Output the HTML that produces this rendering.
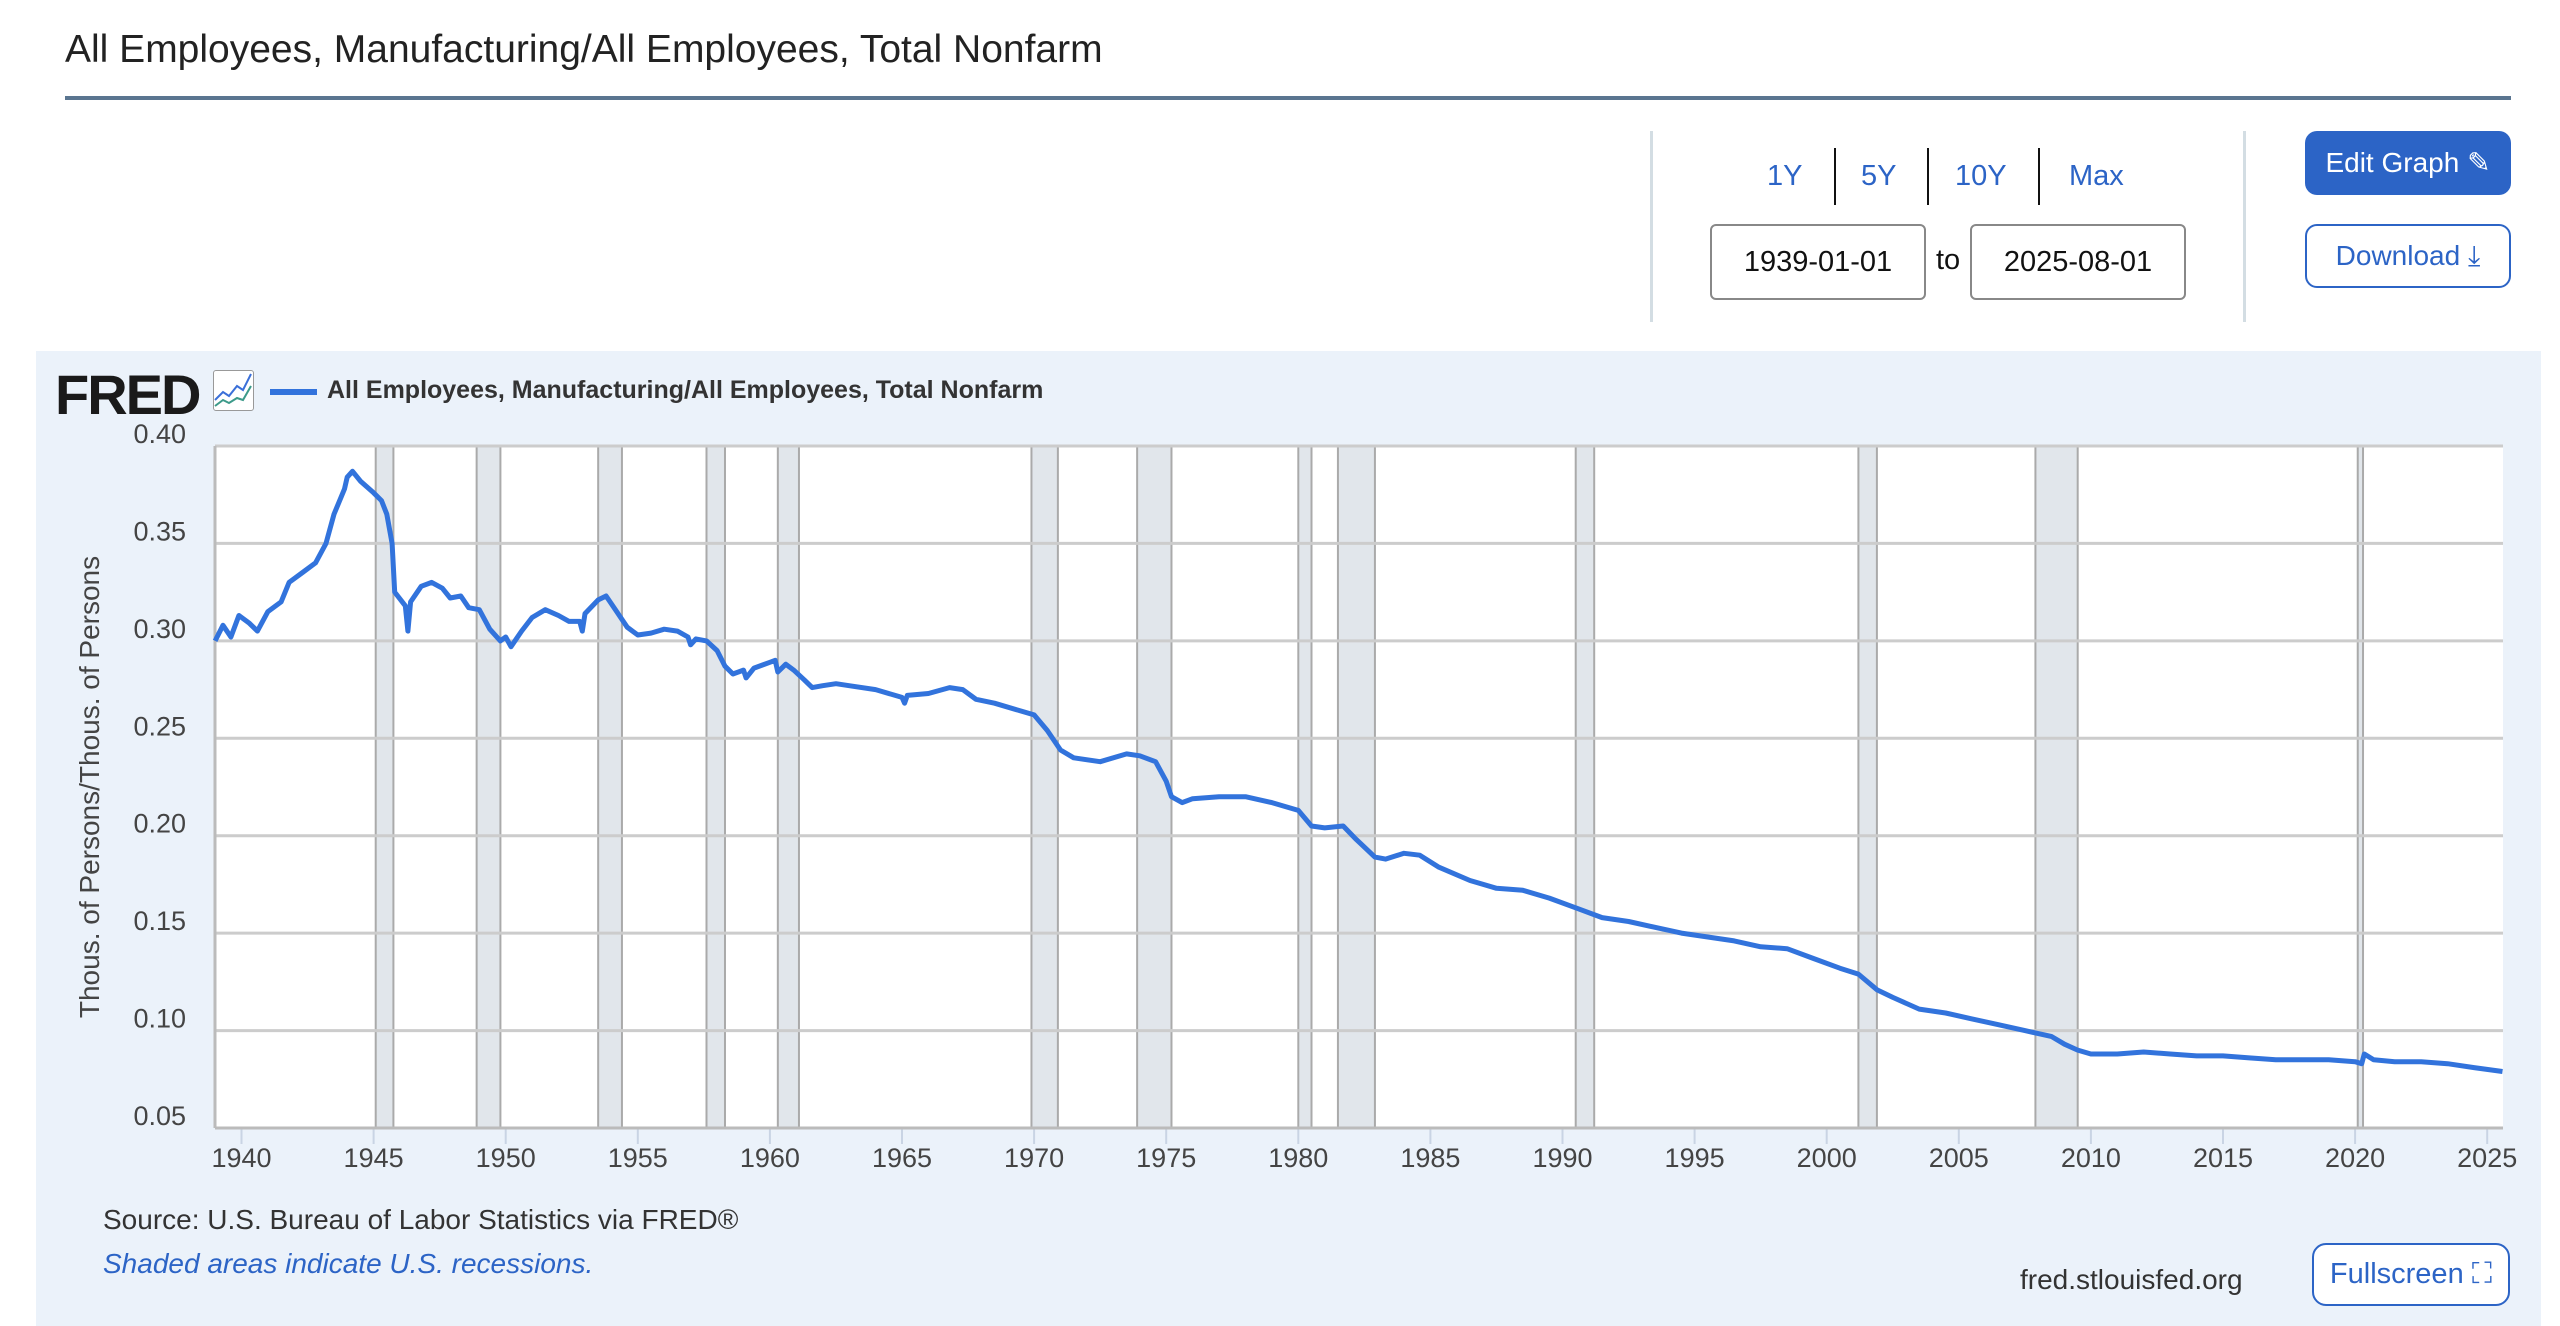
<!DOCTYPE html>
<html><head><meta charset="utf-8"><style>
body{margin:0;width:2560px;height:1326px;background:#fff;position:relative;overflow:hidden;font-family:"Liberation Sans",sans-serif}
.a{position:absolute}
</style></head><body>
<div class="a" style="left:65px;top:28px;font-size:39px;color:#222">All Employees, Manufacturing/All Employees, Total Nonfarm</div>
<div class="a" style="left:65px;top:96px;width:2446px;height:4px;background:#5a7590"></div>
<div class="a" style="left:1650px;top:131px;width:3px;height:191px;background:#d3dde3"></div>
<div class="a" style="left:2243px;top:131px;width:3px;height:191px;background:#d3dde3"></div>
<div class="a" style="left:1834px;top:148px;width:2px;height:57px;background:#111"></div>
<div class="a" style="left:1927px;top:148px;width:2px;height:57px;background:#111"></div>
<div class="a" style="left:2038px;top:148px;width:2px;height:57px;background:#111"></div>
<div class="a" style="left:1767px;top:160px;font-size:29px;color:#2c64c6">1Y</div>
<div class="a" style="left:1861px;top:160px;font-size:29px;color:#2c64c6">5Y</div>
<div class="a" style="left:1955px;top:160px;font-size:29px;color:#2c64c6">10Y</div>
<div class="a" style="left:2069px;top:160px;font-size:29px;color:#2c64c6">Max</div>
<div class="a" style="left:1710px;top:224px;width:212px;height:72px;border:2px solid #888;border-radius:6px;font-size:29px;line-height:72px;text-align:center;color:#111">1939-01-01</div>
<div class="a" style="left:1936px;top:244px;font-size:29px;color:#111">to</div>
<div class="a" style="left:1970px;top:224px;width:212px;height:72px;border:2px solid #888;border-radius:6px;font-size:29px;line-height:72px;text-align:center;color:#111">2025-08-01</div>
<div class="a" style="left:2305px;top:131px;width:206px;height:64px;background:#2c64c6;border-radius:12px;color:#fff;font-size:28px;line-height:64px;text-align:center">Edit Graph ✎</div>
<div class="a" style="left:2305px;top:224px;width:202px;height:60px;border:2px solid #2c64c6;border-radius:12px;color:#2c64c6;font-size:28px;line-height:60px;text-align:center">Download ⤓</div>
<div class="a" style="left:36px;top:351px;width:2505px;height:975px;background:#ebf2fa"></div>
<div class="a" style="left:55px;top:362px;font-size:56px;font-weight:bold;color:#1a1a1a;letter-spacing:-2px">FRED</div>
<div class="a" style="left:213px;top:370px;width:39px;height:39px;border:1px solid #999;border-radius:3px;background:#fff"></div>
<svg class="a" style="left:213px;top:370px" width="41" height="41"><polyline points="2,30 10,22 16,26 24,16 30,20 38,4" fill="none" stroke="#3a6fd8" stroke-width="2"/><polyline points="2,36 10,30 16,33 24,28 30,30 38,16" fill="none" stroke="#3c9a8a" stroke-width="2"/></svg>
<div class="a" style="left:270px;top:389px;width:47px;height:6px;background:#3273dc"></div>
<div class="a" style="left:327px;top:376px;font-size:25px;font-weight:bold;color:#333">All Employees, Manufacturing/All Employees, Total Nonfarm</div>
<div class="a" style="left:90px;top:787px;transform:translate(-50%,-50%) rotate(-90deg);font-size:28px;color:#444;white-space:nowrap">Thous. of Persons/Thous. of Persons</div>
<svg class="a" style="left:0;top:0" width="2560" height="1326" id="c"></svg>
<div class="a" style="left:103px;top:1204px;font-size:28px;color:#333">Source: U.S. Bureau of Labor Statistics via FRED®</div>
<div class="a" style="left:103px;top:1248px;font-size:28px;color:#2c64c6;font-style:italic">Shaded areas indicate U.S. recessions.</div>
<div class="a" style="left:2020px;top:1264px;font-size:28px;color:#333">fred.stlouisfed.org</div>
<div class="a" style="left:2312px;top:1243px;width:194px;height:59px;border:2px solid #2c64c6;border-radius:14px;background:#fff;color:#2c64c6;font-size:29px;line-height:59px;text-align:center">Fullscreen ⛶</div>
<script>
var L=215,R=2503,T=446,B=1128;
function X(y){return 241.5+(y-1940)*26.42}
function Y(v){return T+(0.40-v)*(B-T)/0.35}
var s='<rect x="'+L+'" y="'+T+'" width="'+(R-L)+'" height="'+(B-T)+'" fill="#fff"/>';
var rec=[[1945.08,1945.75],[1948.9,1949.8],[1953.5,1954.4],[1957.6,1958.3],[1960.3,1961.1],[1969.9,1970.9],[1973.9,1975.2],[1980.0,1980.5],[1981.5,1982.9],[1990.5,1991.2],[2001.2,2001.9],[2007.9,2009.5],[2020.1,2020.3]];
rec.forEach(function(r){s+='<rect x="'+X(r[0])+'" y="'+T+'" width="'+(X(r[1])-X(r[0]))+'" height="'+(B-T)+'" fill="#e1e6eb" stroke="#aaa" stroke-width="2"/>';});
for(var i=0;i<=7;i++){var v=0.40-i*0.05,y=Y(v);s+='<line x1="'+L+'" x2="'+R+'" y1="'+y+'" y2="'+y+'" stroke="#ccc" stroke-width="3"/>';
s+='<text x="186" y="'+(y-3)+'" text-anchor="end" font-size="27" fill="#444" font-family="Liberation Sans">'+v.toFixed(2)+'</text>';}
s+='<line x1="'+L+'" x2="'+L+'" y1="'+T+'" y2="'+B+'" stroke="#bbb" stroke-width="3"/>';
for(var yr=1940;yr<=2025;yr+=5){var x=X(yr);s+='<line x1="'+x+'" x2="'+x+'" y1="'+B+'" y2="'+(B+16)+'" stroke="#c9d4e4" stroke-width="2"/><text x="'+x+'" y="1167" text-anchor="middle" font-size="27" fill="#444" font-family="Liberation Sans">'+yr+'</text>';}
var d=[1939.0,.300,1939.3,.308,1939.6,.302,1939.9,.313,1940.3,.309,1940.6,.305,1941,.315,1941.5,.320,1941.8,.330,1942.3,.335,1942.8,.340,1943.2,.350,1943.5,.365,1943.9,.378,1944.0,.384,1944.2,.387,1944.5,.382,1945.0,.376,1945.3,.372,1945.5,.365,1945.7,.350,1945.8,.325,1946.2,.318,1946.3,.305,1946.4,.320,1946.8,.328,1947.2,.330,1947.6,.327,1947.9,.322,1948.3,.323,1948.6,.317,1949.0,.316,1949.4,.306,1949.8,.300,1950.0,.302,1950.2,.297,1950.6,.305,1951.0,.312,1951.5,.316,1952,.313,1952.4,.310,1952.8,.310,1952.9,.305,1953.0,.314,1953.5,.321,1953.8,.323,1954.2,.315,1954.6,.307,1955.0,.303,1955.5,.304,1956,.306,1956.5,.305,1956.9,.302,1957,.298,1957.2,.301,1957.6,.300,1958,.295,1958.3,.287,1958.6,.283,1959,.285,1959.1,.281,1959.4,.286,1960,.289,1960.2,.290,1960.3,.284,1960.6,.288,1960.9,.285,1961.3,.280,1961.6,.276,1962,.277,1962.5,.278,1963,.277,1964,.275,1965,.271,1965.1,.268,1965.2,.272,1966,.273,1966.8,.276,1967.3,.275,1967.8,.270,1968.5,.268,1969.5,.264,1970,.262,1970.5,.254,1971,.244,1971.5,.240,1972.5,.238,1973.5,.242,1974,.241,1974.6,.238,1975,.228,1975.2,.220,1975.6,.217,1976,.219,1977,.220,1978,.220,1979,.217,1980,.213,1980.5,.205,1981,.204,1981.7,.205,1982.2,.198,1982.9,.189,1983.3,.188,1984,.191,1984.6,.190,1985.3,.184,1986.5,.177,1987.5,.173,1988.5,.172,1989.5,.168,1990.5,.163,1991.5,.158,1992.5,.156,1993.5,.153,1994.5,.150,1995.5,.148,1996.5,.146,1997.5,.143,1998.5,.142,1999.5,.137,2000.5,.132,2001.2,.129,2001.9,.121,2002.5,.117,2003.5,.111,2004.5,.109,2005.5,.106,2006.5,.103,2007.5,.100,2008.5,.097,2009.0,.093,2009.5,.090,2010,.088,2011,.088,2012,.089,2013,.088,2014,.087,2015,.087,2016,.086,2017,.085,2018,.085,2019,.085,2020,.084,2020.25,.083,2020.35,.088,2020.7,.085,2021.5,.084,2022.5,.084,2023.5,.083,2024.5,.081,2025.58,.079];
var p=[];for(var k=0;k<d.length;k+=2)p.push(X(d[k]).toFixed(1)+','+Y(d[k+1]).toFixed(1));
s+='<polyline points="'+p.join(' ')+'" fill="none" stroke="#3273dc" stroke-width="5" stroke-linejoin="round"/>';
s+='<line x1="'+L+'" x2="'+R+'" y1="'+B+'" y2="'+B+'" stroke="#bbb" stroke-width="3"/>';
document.getElementById('c').innerHTML=s;
</script>
</body></html>
